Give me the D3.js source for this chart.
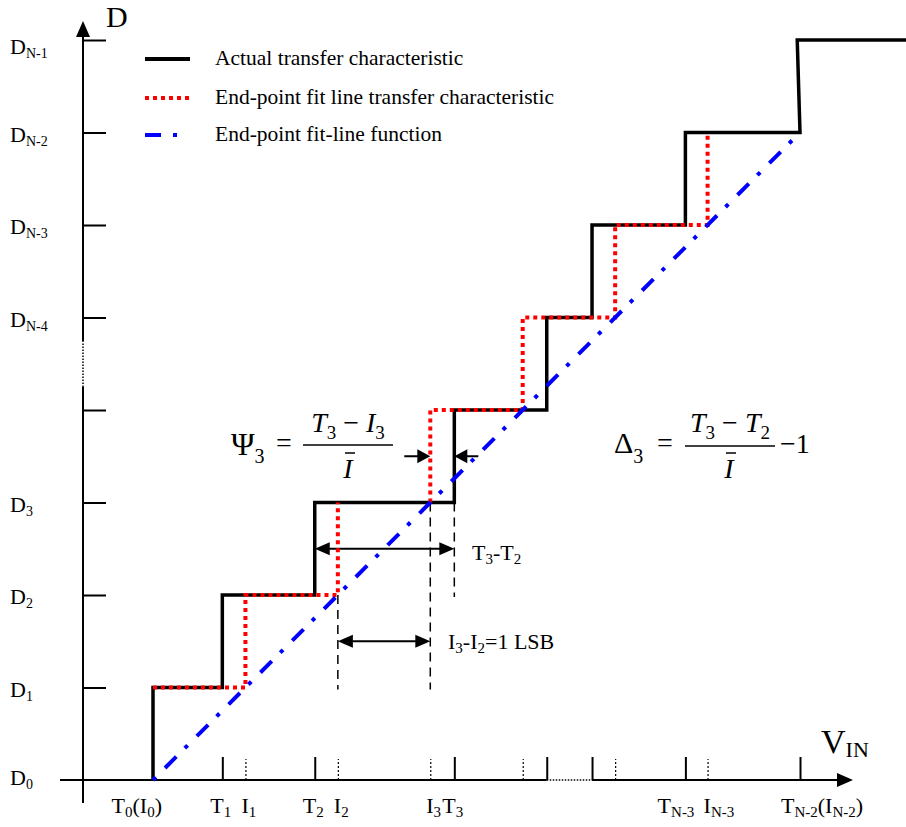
<!DOCTYPE html>
<html lang="en">
<head>
<meta charset="UTF-8">
<title>ADC transfer characteristic</title>
<script src="https://d3js.org/d3.v7.min.js"></script>
<style>
  body { margin: 0; background: #fff; }
  svg { display: block; font-family: "Liberation Serif", "Times New Roman", serif; }
</style>
</head>
<body>
<div id="chart"></div>
<script>
// output codes D0 .. D(N-1)  (N = 9 in this sketch, code 4 has no label)
const codeLabels = ["D_{0}", "D_{1}", "D_{2}", "D_{3}", "", "D_{N-4}", "D_{N-3}", "D_{N-2}", "D_{N-1}"];
// end-point fit transition points I_k (in LSB)
const idealEdges = [0, 1, 2, 3, 4, 5, 6, 7];
// actual transition points T_k (in LSB)
const actualEdges = [0, 0.75, 1.75, 3.26, 4.26, 4.75, 5.76, 7];
const lastRiseTop = 6.97;   // top of last actual step leans a bit
const inputEnd = 8.15;
const tLabels = ["T_{0}(I_{0})", "T_{1}", "T_{2}", "T_{3}", "", "", "T_{N-3}", "T_{N-2}(I_{N-2})"];
const iLabels = ["", "I_{1}", "I_{2}", "I_{3}", "", "", "I_{N-3}", ""];
const fitHiddenRuns = [3];  // red run under D3 is covered
const legendItems = ["Actual transfer characteristic", "End-point fit line transfer characteristic", "End-point fit-line function"];

const width = 906, height = 827;
const svg = d3.select("#chart").append("svg")
    .attr("width", width).attr("height", height);

const x = d3.scaleLinear().domain([0, 7]).range([153, 800]);
const y = d3.scaleLinear().domain([0, 8]).range([780, 40]);
const axisX = 83;

// text with _{sub} parts
function rich(sel, str, size, subSize, drop) {
    const parts = str.split(/_\{([^}]*)\}/);
    let down = false;
    parts.forEach((p, i) => {
        if (!p) return;
        const isSub = i % 2 === 1;
        const ts = sel.append("tspan").text(p).attr("font-size", isSub ? subSize : size);
        if (isSub && !down) { ts.attr("dy", drop); down = true; }
        else if (!isSub && down) { ts.attr("dy", -drop); down = false; }
    });
}

function head(g, tx, ty, dir, len, half) {
    // dir: 'l','r','u'
    let pts;
    if (dir === "r") pts = [[tx, ty], [tx - len, ty - half], [tx - len, ty + half]];
    else if (dir === "l") pts = [[tx, ty], [tx + len, ty - half], [tx + len, ty + half]];
    else pts = [[tx, ty], [tx - half, ty + len], [tx + half, ty + len]];
    g.append("polygon").attr("points", pts.map(p => p.join(",")).join(" ")).attr("fill", "#000");
}

// ---- axes ----
const ax = svg.append("g");
const yb0 = y(4.25), yb1 = y(4.74);
ax.append("line").attr("x1", axisX).attr("x2", axisX).attr("y1", 803).attr("y2", yb0)
    .attr("stroke", "#000").attr("stroke-width", 2);
ax.append("line").attr("x1", axisX).attr("x2", axisX).attr("y1", yb0).attr("y2", yb1)
    .attr("stroke", "#000").attr("stroke-width", 1.5).attr("stroke-dasharray", "1.5 1.5");
ax.append("line").attr("x1", axisX).attr("x2", axisX).attr("y1", yb1).attr("y2", 34)
    .attr("stroke", "#000").attr("stroke-width", 2);
head(ax, axisX, 21, "u", 16, 7);

const xb0 = x(actualEdges[4]), xb1 = x(actualEdges[5]);
ax.append("line").attr("x1", 60).attr("x2", xb0).attr("y1", y(0)).attr("y2", y(0))
    .attr("stroke", "#000").attr("stroke-width", 2);
ax.append("line").attr("x1", xb0).attr("x2", xb1).attr("y1", y(0)).attr("y2", y(0))
    .attr("stroke", "#000").attr("stroke-width", 1.5).attr("stroke-dasharray", "1.5 1.5");
ax.append("line").attr("x1", xb1).attr("x2", 840).attr("y1", y(0)).attr("y2", y(0))
    .attr("stroke", "#000").attr("stroke-width", 2);
head(ax, 853, y(0), "r", 16, 7);

// y ticks (pointing right)
const yAxis = svg.append("g").attr("transform", `translate(${axisX},0)`)
    .call(d3.axisRight(y).tickValues(d3.range(1, 9)).tickSize(23).tickFormat(""));
yAxis.select(".domain").remove();
yAxis.selectAll(".tick line").attr("stroke-width", 2);

// x ticks: T solid, I dotted
const tAxis = svg.append("g").attr("transform", `translate(0,${y(0)})`)
    .call(d3.axisTop(x).tickValues(actualEdges.slice(1)).tickSize(23).tickFormat(""));
tAxis.select(".domain").remove();
tAxis.selectAll(".tick line").attr("stroke-width", 2);

const iAxis = svg.append("g").attr("transform", `translate(0,${y(0)})`)
    .call(d3.axisTop(x).tickValues(idealEdges.slice(1, 7)).tickSize(21).tickFormat(""));
iAxis.select(".domain").remove();
iAxis.selectAll(".tick line").attr("stroke-width", 1.2).attr("stroke-dasharray", "2 2");

// y labels
const yNudge = { 0: -4, 8: 5 };
codeLabels.forEach((lab, k) => {
    if (!lab) return;
    const t = svg.append("text").attr("x", 10).attr("y", y(k) + 9 + (yNudge[k] || 0));
    rich(t, lab, 22, 14, 4);
});

// x labels: T labels end just right of their tick, I labels start just left of theirs
const xLabY = 813;
tLabels.forEach((lab, k) => {
    if (!lab) return;
    const t = svg.append("text").attr("y", xLabY);
    if (k === 0) t.attr("x", x(actualEdges[k]) + 9).attr("text-anchor", "end");
    else if (k === actualEdges.length - 1) t.attr("x", x(actualEdges[k]) - 19);
    else t.attr("x", x(actualEdges[k]) + 9).attr("text-anchor", "end");
    rich(t, lab, 22, 15, 4);
});
iLabels.forEach((lab, k) => {
    if (!lab) return;
    const t = svg.append("text").attr("y", xLabY).attr("x", x(idealEdges[k]) - 4);
    rich(t, lab, 22, 15, 4);
});

// axis titles
svg.append("text").attr("x", 106).attr("y", 27).attr("font-size", 30).text("D");
const vin = svg.append("text").attr("x", 821).attr("y", 753);
vin.append("tspan").attr("font-size", 34).text("V");
vin.append("tspan").attr("font-size", 22).attr("dy", 4).text("IN");

// ---- dimension lines ----
const dim = svg.append("g");
const dashV = (xv, c0, c1) => dim.append("line")
    .attr("x1", xv).attr("x2", xv).attr("y1", y(c0)).attr("y2", y(c1) + 2)
    .attr("stroke", "#000").attr("stroke-width", 1.5).attr("stroke-dasharray", "9 6");
dashV(x(idealEdges[2]), 2, 1);
dashV(x(idealEdges[3]), 3, 1);
dashV(x(actualEdges[3]), 3, 2);

function dimArrow(x0, x1, yv) {
    dim.append("line").attr("x1", x0 + 12).attr("x2", x1 - 12).attr("y1", yv).attr("y2", yv)
        .attr("stroke", "#000").attr("stroke-width", 2);
    head(dim, x0, yv, "l", 15, 6.5);
    head(dim, x1, yv, "r", 15, 6.5);
}
dimArrow(x(actualEdges[2]), x(actualEdges[3]), y(2.5));
dimArrow(x(idealEdges[2]), x(idealEdges[3]), y(1.5));

const l1 = svg.append("text").attr("x", 472).attr("y", y(2.5) + 11);
rich(l1, "T_{3}-T_{2}", 22, 15, 4);
const l2 = svg.append("text").attr("x", 448).attr("y", y(1.5) + 8);
rich(l2, "I_{3}-I_{2}=1 LSB", 22, 15, 4);

// psi arrows
const py = y(3.5);
dim.append("line").attr("x1", x(idealEdges[3]) - 26).attr("x2", x(idealEdges[3]) - 10)
    .attr("y1", py).attr("y2", py).attr("stroke", "#000").attr("stroke-width", 2);
head(dim, x(idealEdges[3]), py, "r", 13, 7);
dim.append("line").attr("x1", x(actualEdges[3]) + 24).attr("x2", x(actualEdges[3]) + 10)
    .attr("y1", py).attr("y2", py).attr("stroke", "#000").attr("stroke-width", 2);
head(dim, x(actualEdges[3]), py, "l", 13, 7);

// ---- transfer curves ----
const line = d3.line().defined(d => d).x(d => x(d[0])).y(d => y(d[1]));

const actual = [[actualEdges[0], 0]];
actualEdges.forEach((t, k) => {
    if (k > 0) actual.push([t, k]);
    actual.push([k === actualEdges.length - 1 ? lastRiseTop : t, k + 1]);
});
actual.push([inputEnd, 8]);
svg.append("path").datum(actual).attr("d", line)
    .attr("fill", "none").attr("stroke", "#000").attr("stroke-width", 3.5)
    .attr("stroke-linejoin", "miter");

const fit = [[idealEdges[0], 1]];
for (let k = 1; k < idealEdges.length - 1; k++) {
    if (fitHiddenRuns.includes(k)) fit.push(null);
    fit.push([idealEdges[k], k], [idealEdges[k], k + 1]);
}
svg.append("path").datum(fit).attr("d", line)
    .attr("fill", "none").attr("stroke", "#ff0000").attr("stroke-width", 4)
    .attr("stroke-dasharray", "4 4");

const last = idealEdges.length - 1;
svg.append("path").datum([[idealEdges[0], 0], [idealEdges[last], last]]).attr("d", line)
    .attr("fill", "none").attr("stroke", "#0000ff").attr("stroke-width", 4)
    .attr("stroke-dasharray", "4 13 16 12");

// ---- legend ----
const leg = svg.append("g");
const legStyles = [
    { c: "#000", w: 4, d: null },
    { c: "#ff0000", w: 4, d: "4 4" },
    { c: "#0000ff", w: 4, d: "16 12 4 13" }
];
const legY = [59, 98, 135];
legendItems.forEach((txt, i) => {
    const s = legStyles[i];
    const ln = leg.append("line").attr("x1", 145).attr("x2", 190)
        .attr("y1", legY[i]).attr("y2", legY[i])
        .attr("stroke", s.c).attr("stroke-width", s.w);
    if (s.d) ln.attr("stroke-dasharray", s.d);
    leg.append("text").attr("x", 215).attr("y", legY[i] + 6).attr("font-size", 21.5).text(txt);
});

// ---- formulas ----
const f = svg.append("g");
// Psi_3 = (T3 - I3) / Ibar
const psi = f.append("text").attr("x", 231).attr("y", 455);
psi.append("tspan").attr("font-size", 32).text("Ψ");
psi.append("tspan").attr("font-size", 20).attr("dy", 8).text("3");
f.append("text").attr("x", 276).attr("y", 452).attr("font-size", 28).text("=");
f.append("line").attr("x1", 303).attr("x2", 393).attr("y1", 445).attr("y2", 445)
    .attr("stroke", "#000").attr("stroke-width", 1.5);

function numerator(cx, a, b, c, d) {
    const t = f.append("text").attr("x", cx).attr("y", 432).attr("text-anchor", "middle");
    t.append("tspan").attr("font-size", 28).attr("font-style", "italic").text(a);
    t.append("tspan").attr("font-size", 19).attr("dy", 7).text(b);
    t.append("tspan").attr("font-size", 28).attr("dy", -7).text(" − ");
    t.append("tspan").attr("font-size", 28).attr("font-style", "italic").text(c);
    t.append("tspan").attr("font-size", 19).attr("dy", 7).text(d);
}
function ibar(cx) {
    f.append("text").attr("x", cx).attr("y", 478).attr("text-anchor", "middle")
        .attr("font-size", 28).attr("font-style", "italic").text("I");
    f.append("line").attr("x1", cx - 3).attr("x2", cx + 7).attr("y1", 453).attr("y2", 453)
        .attr("stroke", "#000").attr("stroke-width", 1.5);
}
numerator(348, "T", "3", "I", "3");
ibar(348);

// Delta_3 = (T3 - T2) / Ibar - 1
const del = f.append("text").attr("x", 614).attr("y", 453);
del.append("tspan").attr("font-size", 30).text("Δ");
del.append("tspan").attr("font-size", 20).attr("dy", 10).text("3");
f.append("text").attr("x", 657).attr("y", 452).attr("font-size", 28).text("=");
f.append("line").attr("x1", 685).attr("x2", 775).attr("y1", 446).attr("y2", 446)
    .attr("stroke", "#000").attr("stroke-width", 1.5);
numerator(730, "T", "3", "T", "2");
ibar(729);
f.append("text").attr("x", 780).attr("y", 453).attr("font-size", 28).text("−1");
</script>
</body>
</html>
